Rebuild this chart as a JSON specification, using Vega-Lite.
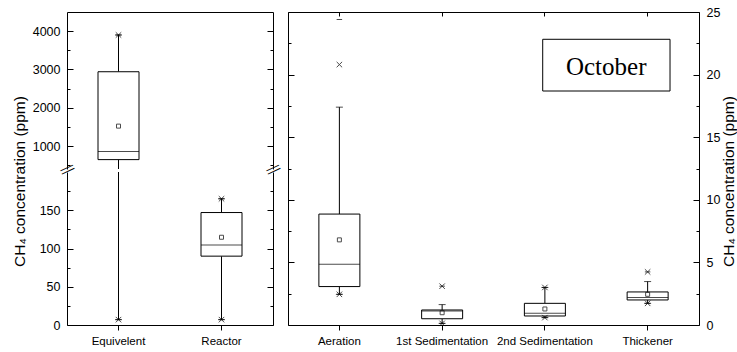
{
"$schema": "https://vega.github.io/schema/vega-lite/v6.json",
"padding": {"left": 12, "top": 6, "right": 0, "bottom": 0},
"background": "white",
"datasets": {
 "left": [
  {"cat":"Equivelent","wlo":7,"q1":645,"med":855,"q3":2940,"whi":3900,"mean":1520,"p1":7,"p99":3900,"mn":7,"mx":3900},
  {"cat":"Reactor","wlo":7,"q1":90,"med":104.7,"q3":147,"whi":165,"mean":114.7,"p1":7,"p99":165,"mn":7,"mx":165}
 ],
 "right": [
  {"cat":"Aeration","wlo":2.45,"q1":3.07,"med":4.86,"q3":8.86,"whi":17.4,"mean":6.8,"p1":2.45,"p99":20.8,"mn":2.45,"mx":24.4},
  {"cat":"1st Sedimentation","wlo":0.13,"q1":0.5,"med":1.12,"q3":1.2,"whi":1.63,"mean":0.98,"p1":0.13,"p99":3.1,"mn":0.13,"mx":3.1},
  {"cat":"2nd Sedimentation","wlo":0.59,"q1":0.72,"med":0.93,"q3":1.73,"whi":3.0,"mean":1.28,"p1":0.59,"p99":3.0,"mn":0.59,"mx":3.0},
  {"cat":"Thickener","wlo":1.73,"q1":2.0,"med":2.19,"q3":2.64,"whi":3.47,"mean":2.45,"p1":1.73,"p99":4.24,"mn":1.73,"mx":4.24}
 ]
},
"config": {
 "view": {"stroke": null},
 "font": "Liberation Sans",
 "axis": {"grid": false, "labelFont": "Liberation Sans", "labelColor": "black", "titleFont": "Liberation Sans", "titleColor": "black", "titleFontWeight": "normal", "domainColor": "black", "tickColor": "black", "domainWidth": 1, "tickWidth": 1}
},
"spacing": 0,
"hconcat": [
 {
  "spacing": 3,
  "bounds": "flush",
  "vconcat": [
   {
    "width": 206, "height": 157,
    "data": {"name": "left"},
    "resolve": {"axis": {"x": "independent", "y": "independent"}},
    "layer": [
     {"mark": {"type":"rule","color":"black","strokeWidth":1,"clip":true},
      "encoding": {"x": {"field":"cat","type":"nominal","sort":null,"scale":{"paddingInner":0,"paddingOuter":0},"axis":null},
       "y": {"field":"wlo","type":"quantitative","scale":{"domain":[400,4500],"nice":false,"zero":false},"axis":{"orient":"left","values":[1000,2000,3000,4000],"format":"d","ticks":false,"domain":true,"labels":true,"labelPadding":7,"labelFontSize":12.5,"title":null}},
       "y2": {"field":"q1"}}},
     {"mark": {"type":"rule","color":"black","strokeWidth":1,"clip":true},
      "encoding": {"x": {"field":"cat","type":"nominal","sort":null,"scale":{"paddingInner":0,"paddingOuter":0},"axis":null},
       "y": {"field":"q3","type":"quantitative","scale":{"domain":[400,4500],"nice":false,"zero":false},"axis":{"orient":"left","values":[1000,2000,3000,4000],"ticks":true,"tickSize":6,"offset":-6,"domain":false,"labels":false,"title":null}},
       "y2": {"field":"whi"}}},
     {"mark": {"type":"bar","size":41,"fill":"white","stroke":"black","strokeWidth":1,"clip":true},
      "encoding": {"x": {"field":"cat","type":"nominal","sort":null,"scale":{"paddingInner":0,"paddingOuter":0},"axis":null},
       "y": {"field":"q1","type":"quantitative","scale":{"domain":[400,4500],"nice":false,"zero":false},"axis":{"orient":"left","values":[500,1500,2500,3500],"ticks":true,"tickSize":3,"offset":-3,"domain":false,"labels":false,"title":null}},
       "y2": {"field":"q3"}}},
     {"mark": {"type":"tick","size":41,"thickness":1,"color":"black","clip":true},
      "encoding": {"x": {"field":"cat","type":"nominal","sort":null,"scale":{"paddingInner":0,"paddingOuter":0},"axis":null},
       "y": {"field":"med","type":"quantitative","scale":{"domain":[400,4500],"nice":false,"zero":false},"axis":{"orient":"right","ticks":false,"domain":true,"labels":false,"title":null}}}},
     {"mark": {"type":"point","shape":"square","size":16,"filled":false,"color":"black","strokeWidth":1,"clip":true},
      "encoding": {"x": {"field":"cat","type":"nominal","sort":null,"scale":{"paddingInner":0,"paddingOuter":0},"axis":null},
       "y": {"field":"mean","type":"quantitative","scale":{"domain":[400,4500],"nice":false,"zero":false},"axis":{"orient":"right","values":[1000,2000,3000,4000],"ticks":true,"tickSize":6,"offset":-6,"domain":false,"labels":false,"title":null}}}},
     {"mark": {"type":"tick","size":7,"thickness":1,"color":"black","clip":true},
      "encoding": {"x": {"field":"cat","type":"nominal","sort":null,"scale":{"paddingInner":0,"paddingOuter":0},"axis":null},
       "y": {"field":"wlo","type":"quantitative","scale":{"domain":[400,4500],"nice":false,"zero":false},"axis":{"orient":"right","values":[500,1500,2500,3500],"ticks":true,"tickSize":3,"offset":-3,"domain":false,"labels":false,"title":null}}}},
     {"mark": {"type":"tick","size":7,"thickness":1,"color":"black","clip":true},
      "encoding": {"x": {"field":"cat","type":"nominal","sort":null,"scale":{"paddingInner":0,"paddingOuter":0},"axis":{"orient":"top","domain":true,"ticks":false,"labels":false,"title":null}},
       "y": {"field":"whi","type":"quantitative","scale":{"domain":[400,4500],"nice":false,"zero":false},"axis":null}}},
     {"mark": {"type":"point","shape":"M-1,-1L1,1M-1,1L1,-1","size":30,"filled":false,"color":"black","strokeWidth":1,"clip":true},
      "encoding": {"x": {"field":"cat","type":"nominal","sort":null,"scale":{"paddingInner":0,"paddingOuter":0},"axis":null},
       "y": {"field":"p1","type":"quantitative","scale":{"domain":[400,4500],"nice":false,"zero":false},"axis":null}}},
     {"mark": {"type":"point","shape":"M-1,-1L1,1M-1,1L1,-1","size":30,"filled":false,"color":"black","strokeWidth":1,"clip":true},
      "encoding": {"x": {"field":"cat","type":"nominal","sort":null,"scale":{"paddingInner":0,"paddingOuter":0},"axis":null},
       "y": {"field":"p99","type":"quantitative","scale":{"domain":[400,4500],"nice":false,"zero":false},"axis":null}}},
     {"mark": {"type":"point","shape":"M-1,0L1,0","size":30,"filled":false,"color":"black","strokeWidth":1,"clip":true},
      "encoding": {"x": {"field":"cat","type":"nominal","sort":null,"scale":{"paddingInner":0,"paddingOuter":0},"axis":null},
       "y": {"field":"mn","type":"quantitative","scale":{"domain":[400,4500],"nice":false,"zero":false},"axis":null}}},
     {"mark": {"type":"point","shape":"M-1,0L1,0","size":30,"filled":false,"color":"black","strokeWidth":1,"clip":true},
      "encoding": {"x": {"field":"cat","type":"nominal","sort":null,"scale":{"paddingInner":0,"paddingOuter":0},"axis":null},
       "y": {"field":"mx","type":"quantitative","scale":{"domain":[400,4500],"nice":false,"zero":false},"axis":null}}}
    ]
   },
   {
    "width": 206, "height": 153,
    "data": {"name": "left"},
    "resolve": {"axis": {"x": "independent", "y": "independent"}},
    "layer": [
     {"mark": {"type":"rule","color":"black","strokeWidth":1,"clip":true},
      "encoding": {"x": {"field":"cat","type":"nominal","sort":null,"scale":{"paddingInner":0,"paddingOuter":0},"axis":null},
       "y": {"field":"wlo","type":"quantitative","scale":{"domain":[0,200],"nice":false,"zero":false},"axis":{"orient":"left","values":[0,50,100,150],"ticks":false,"domain":true,"labels":true,"labelPadding":7,"labelFontSize":12.5,"title":"CH₄ concentration (ppm)","titleFontSize":15.5,"titleX":-39.5,"titleY":9,"titleAngle":-90,"titleAlign":"center","titleBaseline":"bottom"}},
       "y2": {"field":"q1"}}},
     {"mark": {"type":"rule","color":"black","strokeWidth":1,"clip":true},
      "encoding": {"x": {"field":"cat","type":"nominal","sort":null,"scale":{"paddingInner":0,"paddingOuter":0},"axis":null},
       "y": {"field":"q3","type":"quantitative","scale":{"domain":[0,200],"nice":false,"zero":false},"axis":{"orient":"left","values":[0,50,100,150],"ticks":true,"tickSize":6,"offset":-6,"domain":false,"labels":false,"title":null}},
       "y2": {"field":"whi"}}},
     {"mark": {"type":"bar","size":41,"fill":"white","stroke":"black","strokeWidth":1,"clip":true},
      "encoding": {"x": {"field":"cat","type":"nominal","sort":null,"scale":{"paddingInner":0,"paddingOuter":0},"axis":null},
       "y": {"field":"q1","type":"quantitative","scale":{"domain":[0,200],"nice":false,"zero":false},"axis":{"orient":"left","values":[25,75,125,175],"ticks":true,"tickSize":3,"offset":-3,"domain":false,"labels":false,"title":null}},
       "y2": {"field":"q3"}}},
     {"mark": {"type":"tick","size":41,"thickness":1,"color":"black","clip":true},
      "encoding": {"x": {"field":"cat","type":"nominal","sort":null,"scale":{"paddingInner":0,"paddingOuter":0},"axis":null},
       "y": {"field":"med","type":"quantitative","scale":{"domain":[0,200],"nice":false,"zero":false},"axis":{"orient":"right","ticks":false,"domain":true,"labels":false,"title":null}}}},
     {"mark": {"type":"point","shape":"square","size":16,"filled":false,"color":"black","strokeWidth":1,"clip":true},
      "encoding": {"x": {"field":"cat","type":"nominal","sort":null,"scale":{"paddingInner":0,"paddingOuter":0},"axis":null},
       "y": {"field":"mean","type":"quantitative","scale":{"domain":[0,200],"nice":false,"zero":false},"axis":{"orient":"right","values":[0,50,100,150],"ticks":true,"tickSize":6,"offset":-6,"domain":false,"labels":false,"title":null}}}},
     {"mark": {"type":"tick","size":7,"thickness":1,"color":"black","clip":true},
      "encoding": {"x": {"field":"cat","type":"nominal","sort":null,"scale":{"paddingInner":0,"paddingOuter":0},"axis":null},
       "y": {"field":"wlo","type":"quantitative","scale":{"domain":[0,200],"nice":false,"zero":false},"axis":{"orient":"right","values":[25,75,125,175],"ticks":true,"tickSize":3,"offset":-3,"domain":false,"labels":false,"title":null}}}},
     {"mark": {"type":"tick","size":7,"thickness":1,"color":"black","clip":true},
      "encoding": {"x": {"field":"cat","type":"nominal","sort":null,"scale":{"paddingInner":0,"paddingOuter":0},"axis":{"orient":"bottom","domain":true,"ticks":true,"tickSize":5,"labels":true,"labelPadding":5.5,"labelFontSize":11.5,"labelAngle":0,"title":null}},
       "y": {"field":"whi","type":"quantitative","scale":{"domain":[0,200],"nice":false,"zero":false},"axis":null}}},
     {"mark": {"type":"point","shape":"M-1,-1L1,1M-1,1L1,-1","size":30,"filled":false,"color":"black","strokeWidth":1,"clip":true},
      "encoding": {"x": {"field":"cat","type":"nominal","sort":null,"scale":{"paddingInner":0,"paddingOuter":0},"axis":null},
       "y": {"field":"p1","type":"quantitative","scale":{"domain":[0,200],"nice":false,"zero":false},"axis":{"orient":"left","values":[200],"domain":false,"ticks":false,"labels":true,"labelExpr":"'='","labelAngle":-25,"labelAlign":"center","labelBaseline":"middle","labelPadding":0,"labelOffset":-3,"labelFontSize":22,"labelFont":"DejaVu Sans","labelFontWeight":200,"labelFlush":false,"labelOverlap":false,"title":null}}}},
     {"mark": {"type":"point","shape":"M-1,-1L1,1M-1,1L1,-1","size":30,"filled":false,"color":"black","strokeWidth":1,"clip":true},
      "encoding": {"x": {"field":"cat","type":"nominal","sort":null,"scale":{"paddingInner":0,"paddingOuter":0},"axis":null},
       "y": {"field":"p99","type":"quantitative","scale":{"domain":[0,200],"nice":false,"zero":false},"axis":{"orient":"right","values":[200],"domain":false,"ticks":false,"labels":true,"labelExpr":"'='","labelAngle":-25,"labelAlign":"center","labelBaseline":"middle","labelPadding":0,"labelOffset":-3,"labelFontSize":22,"labelFont":"DejaVu Sans","labelFontWeight":200,"labelFlush":false,"labelOverlap":false,"title":null}}}},
     {"mark": {"type":"point","shape":"M-1,0L1,0","size":30,"filled":false,"color":"black","strokeWidth":1,"clip":true},
      "encoding": {"x": {"field":"cat","type":"nominal","sort":null,"scale":{"paddingInner":0,"paddingOuter":0},"axis":null},
       "y": {"field":"mn","type":"quantitative","scale":{"domain":[0,200],"nice":false,"zero":false},"axis":null}}},
     {"mark": {"type":"point","shape":"M-1,0L1,0","size":30,"filled":false,"color":"black","strokeWidth":1,"clip":true},
      "encoding": {"x": {"field":"cat","type":"nominal","sort":null,"scale":{"paddingInner":0,"paddingOuter":0},"axis":null},
       "y": {"field":"mx","type":"quantitative","scale":{"domain":[0,200],"nice":false,"zero":false},"axis":null}}}
    ]
   }
  ]
 },
 {
  "width": 411, "height": 313,
  "resolve": {"scale": {"x": "independent"}, "axis": {"x": "independent", "y": "independent"}},
  "layer": [
   {
    "data": {"name": "right"},
    "resolve": {"axis": {"x": "independent", "y": "independent"}},
    "layer": [
     {"mark": {"type":"rule","color":"black","strokeWidth":1},
      "encoding": {"x": {"field":"cat","type":"nominal","sort":null,"scale":{"paddingInner":0,"paddingOuter":0},"axis":null},
       "y": {"field":"wlo","type":"quantitative","scale":{"domain":[0,25],"nice":false,"zero":false},"axis":{"orient":"right","values":[0,5,10,15,20,25],"ticks":false,"domain":true,"labels":true,"labelPadding":7,"labelFontSize":12.5,"title":"CH₄ concentration (ppm)","titleFontSize":15.5,"titleX":37,"titleY":169,"titleAngle":-90,"titleAlign":"center","titleBaseline":"bottom"}},
       "y2": {"field":"q1"}}},
     {"mark": {"type":"rule","color":"black","strokeWidth":1},
      "encoding": {"x": {"field":"cat","type":"nominal","sort":null,"scale":{"paddingInner":0,"paddingOuter":0},"axis":null},
       "y": {"field":"q3","type":"quantitative","scale":{"domain":[0,25],"nice":false,"zero":false},"axis":{"orient":"right","values":[0,5,10,15,20,25],"ticks":true,"tickSize":6,"offset":-6,"domain":false,"labels":false,"title":null}},
       "y2": {"field":"whi"}}},
     {"mark": {"type":"bar","size":41,"fill":"white","stroke":"black","strokeWidth":1},
      "encoding": {"x": {"field":"cat","type":"nominal","sort":null,"scale":{"paddingInner":0,"paddingOuter":0},"axis":null},
       "y": {"field":"q1","type":"quantitative","scale":{"domain":[0,25],"nice":false,"zero":false},"axis":{"orient":"right","values":[2.5,7.5,12.5,17.5,22.5],"ticks":true,"tickSize":3,"offset":-3,"domain":false,"labels":false,"title":null}},
       "y2": {"field":"q3"}}},
     {"mark": {"type":"tick","size":41,"thickness":1,"color":"black"},
      "encoding": {"x": {"field":"cat","type":"nominal","sort":null,"scale":{"paddingInner":0,"paddingOuter":0},"axis":null},
       "y": {"field":"med","type":"quantitative","scale":{"domain":[0,25],"nice":false,"zero":false},"axis":{"orient":"left","ticks":false,"domain":true,"labels":false,"title":null}}}},
     {"mark": {"type":"point","shape":"square","size":16,"filled":false,"color":"black","strokeWidth":1},
      "encoding": {"x": {"field":"cat","type":"nominal","sort":null,"scale":{"paddingInner":0,"paddingOuter":0},"axis":null},
       "y": {"field":"mean","type":"quantitative","scale":{"domain":[0,25],"nice":false,"zero":false},"axis":{"orient":"left","values":[0,5,10,15,20,25],"ticks":true,"tickSize":6,"offset":-6,"domain":false,"labels":false,"title":null}}}},
     {"mark": {"type":"tick","size":7,"thickness":1,"color":"black"},
      "encoding": {"x": {"field":"cat","type":"nominal","sort":null,"scale":{"paddingInner":0,"paddingOuter":0},"axis":null},
       "y": {"field":"wlo","type":"quantitative","scale":{"domain":[0,25],"nice":false,"zero":false},"axis":{"orient":"left","values":[2.5,7.5,12.5,17.5,22.5],"ticks":true,"tickSize":3,"offset":-3,"domain":false,"labels":false,"title":null}}}},
     {"mark": {"type":"tick","size":7,"thickness":1,"color":"black"},
      "encoding": {"x": {"field":"cat","type":"nominal","sort":null,"scale":{"paddingInner":0,"paddingOuter":0},"axis":{"orient":"bottom","domain":true,"ticks":true,"tickSize":5,"labels":true,"labelPadding":5.5,"labelFontSize":11.5,"labelAngle":0,"title":null}},
       "y": {"field":"whi","type":"quantitative","scale":{"domain":[0,25],"nice":false,"zero":false},"axis":null}}},
     {"mark": {"type":"point","shape":"M-1,-1L1,1M-1,1L1,-1","size":30,"filled":false,"color":"black","strokeWidth":1},
      "encoding": {"x": {"field":"cat","type":"nominal","sort":null,"scale":{"paddingInner":0,"paddingOuter":0},"axis":{"orient":"top","domain":true,"ticks":false,"labels":false,"title":null}},
       "y": {"field":"p1","type":"quantitative","scale":{"domain":[0,25],"nice":false,"zero":false},"axis":null}}},
     {"mark": {"type":"point","shape":"M-1,-1L1,1M-1,1L1,-1","size":30,"filled":false,"color":"black","strokeWidth":1},
      "encoding": {"x": {"field":"cat","type":"nominal","sort":null,"scale":{"paddingInner":0,"paddingOuter":0},"axis":{"orient":"top","domain":false,"ticks":true,"tickSize":4,"offset":-4,"labels":false,"title":null}},
       "y": {"field":"p99","type":"quantitative","scale":{"domain":[0,25],"nice":false,"zero":false},"axis":null}}},
     {"mark": {"type":"point","shape":"M-1,0L1,0","size":30,"filled":false,"color":"black","strokeWidth":1},
      "encoding": {"x": {"field":"cat","type":"nominal","sort":null,"scale":{"paddingInner":0,"paddingOuter":0},"axis":null},
       "y": {"field":"mn","type":"quantitative","scale":{"domain":[0,25],"nice":false,"zero":false},"axis":null}}},
     {"mark": {"type":"point","shape":"M-1,0L1,0","size":30,"filled":false,"color":"black","strokeWidth":1},
      "encoding": {"x": {"field":"cat","type":"nominal","sort":null,"scale":{"paddingInner":0,"paddingOuter":0},"axis":null},
       "y": {"field":"mx","type":"quantitative","scale":{"domain":[0,25],"nice":false,"zero":false},"axis":null}}}
    ]
   },
   {
    "data": {"values": [{"label": "October"}]},
    "layer": [
     {"mark": {"type":"rect","fill":"white","stroke":"black","strokeWidth":1},
      "encoding": {"x": {"datum":2.479,"type":"quantitative","scale":{"domain":[0,4],"nice":false,"zero":false},"axis":null},
       "x2": {"datum":3.718},
       "y": {"datum":22.82,"type":"quantitative","scale":{"domain":[0,25],"nice":false,"zero":false},"axis":null},
       "y2": {"datum":18.69}}},
     {"mark": {"type":"text","font":"Liberation Serif","fontSize":25,"color":"black","align":"center","baseline":"alphabetic"},
      "encoding": {"x": {"datum":3.097,"type":"quantitative","scale":{"domain":[0,4],"nice":false,"zero":false},"axis":null},
       "y": {"datum":20.0,"type":"quantitative","scale":{"domain":[0,25],"nice":false,"zero":false},"axis":null},
       "text": {"field":"label"}}}
    ]
   }
  ]
 }
]
}
